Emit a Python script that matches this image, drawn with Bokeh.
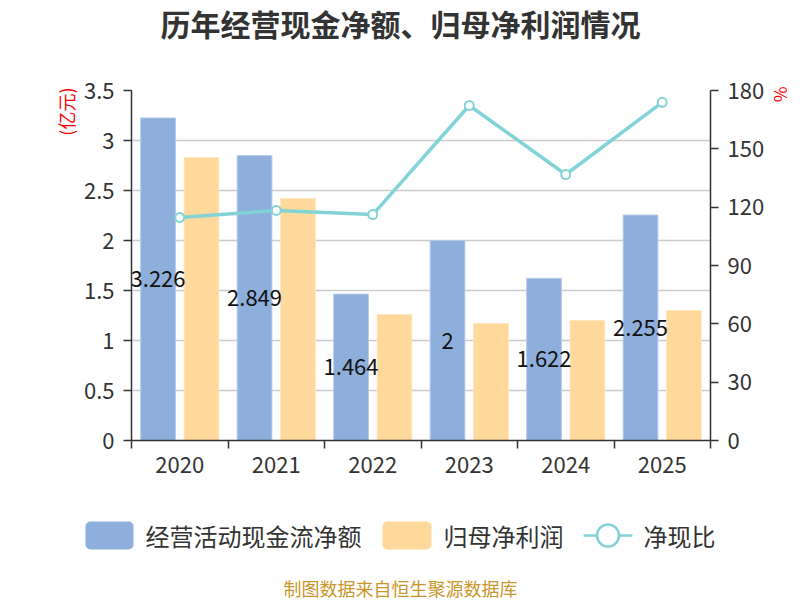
from bokeh.plotting import figure
from bokeh.layouts import column
from bokeh.models import (Range1d, LinearAxis, FixedTicker, CustomJSTickFormatter,
                          ColumnDataSource, Title)
from bokeh.core.properties import value
from bokeh.embed import file_html
from bokeh.resources import INLINE

# ---- data ----
years = ["2020", "2021", "2022", "2023", "2024", "2025"]
cash_flow = [3.226, 2.849, 1.464, 2.0, 1.622, 2.255]          # 经营活动现金流净额 (亿元)
cash_labels = ["3.226", "2.849", "1.464", "2", "1.622", "2.255"]
net_profit = [2.83, 2.42, 1.26, 1.17, 1.20, 1.30]              # 归母净利润 (亿元)
ratio = [114.7, 118.3, 116.2, 172.3, 136.8, 173.9]             # 净现比 (%)
left_ticks = [0, 0.5, 1, 1.5, 2, 2.5, 3, 3.5]
right_ticks = [0, 30, 60, 90, 120, 150, 180]
series_names = ["经营活动现金流净额", "归母净利润", "净现比"]
title_text = "历年经营现金净额、归母净利润情况"
footer_text = "制图数据来自恒生聚源数据库"

FONT = "Noto Sans CJK SC"
BLUE = "#8EAEDB"
ORANGE = "#FFD99B"
TEAL = "#82D3D7"
AXIS = "#333333"
PAGE_W = 800

idx = list(range(len(years)))
off = 0.225
src = ColumnDataSource(dict(
    xb=[i - off for i in idx],
    xo=[i + off for i in idx],
    x=idx,
    cash=cash_flow,
    half=[v / 2 for v in cash_flow],
    lab=cash_labels,
    profit=net_profit,
    ratio=ratio,
))


def blank(h, y0, y1):
    f = figure(width=PAGE_W, height=h, x_range=Range1d(0, PAGE_W), y_range=Range1d(y0, y1),
               output_backend="svg", toolbar_location=None, title=None,
               x_axis_type=None, y_axis_type=None, frame_align=False,
               min_border_left=0, min_border_right=0, min_border_top=0, min_border_bottom=0)
    f.outline_line_color = None
    f.xgrid.grid_line_color = None
    f.ygrid.grid_line_color = None
    return f


# ---- title strip (page y 0..60) ----
top = blank(60, 60, 0)
top.text(x=[400], y=[22], text=[title_text], text_align="center", text_baseline="middle",
         text_font=value(FONT), text_font_size="30px", text_font_style="bold",
         text_color="#333333")

# ---- main chart (page y 60..490) ----
FL, FR = 131, 710
p = figure(width=PAGE_W, height=430, x_range=Range1d(-0.5, 5.5), y_range=Range1d(0, 3.5),
           output_backend="svg", toolbar_location=None, title=None, frame_align=False,
           min_border_left=FL, min_border_right=PAGE_W - FR,
           min_border_top=30, min_border_bottom=50)
p.extra_y_ranges = {"pct": Range1d(0, 180)}
p.outline_line_color = None

b1 = p.vbar(x="xb", top="cash", width=0.36, source=src, fill_color=BLUE,
            line_color="#B5CBEA", line_width=1)
b2 = p.vbar(x="xo", top="profit", width=0.36, source=src, fill_color=ORANGE,
            line_color="#FFE6BD", line_width=1)
ln = p.line(x="x", y="ratio", source=src, y_range_name="pct",
            line_color=TEAL, line_width=3.5)
sc = p.scatter(x="x", y="ratio", source=src, y_range_name="pct", size=9,
               fill_color="white", line_color=TEAL, line_width=2)
p.text(x="xb", y="half", text="lab", source=src, text_align="center",
       text_baseline="middle", text_font_size="22px", text_color="#111111",
       text_font=value(FONT))

p.xaxis.ticker = FixedTicker(ticks=idx, minor_ticks=[i - 0.5 for i in range(len(years) + 1)])
p.xaxis.formatter = CustomJSTickFormatter(args=dict(years=years),
                                          code="return years[Math.round(tick)] || ''")
p.yaxis.ticker = FixedTicker(ticks=left_ticks)
p.yaxis.formatter = CustomJSTickFormatter(code="return String(Math.round(tick*10)/10)")

ra = LinearAxis(y_range_name="pct", ticker=FixedTicker(ticks=right_ticks))
p.add_layout(ra, "right")

for ax in [p.xaxis[0], p.yaxis[0], ra]:
    ax.axis_line_color = AXIS
    ax.axis_line_width = 1.5
    ax.major_tick_line_color = AXIS
    ax.major_tick_line_width = 1.5
    ax.major_tick_out = 8
    ax.major_tick_in = 0
    ax.minor_tick_in = 0
    ax.minor_tick_out = 0
    ax.major_label_text_font = FONT
    ax.major_label_text_font_size = "22px"
    ax.major_label_text_color = AXIS
    ax.major_label_standoff = 9

p.xaxis.major_tick_line_color = None
p.xaxis.minor_tick_line_color = AXIS
p.xaxis.minor_tick_line_width = 1.5
p.xaxis.minor_tick_out = 8
p.xaxis.major_label_standoff = 8
p.yaxis.minor_tick_line_color = None
ra.minor_tick_line_color = None

p.xgrid.grid_line_color = None
p.ygrid.grid_line_color = "#CCCCCC"
p.ygrid.grid_line_width = 1.5

p.add_layout(Title(text="(亿元)", align="right", offset=-3, standoff=4, text_font=FONT,
                   text_font_size="18px", text_font_style="normal",
                   text_color="#FF0000"), "left")
p.add_layout(Title(text="%", align="left", offset=-4, standoff=2, text_font=FONT,
                   text_font_size="17px", text_font_style="normal",
                   text_color="#FF0000"), "right")

# ---- legend + footer strip (page y 490..600) ----
bot = blank(110, 600, 490)
LEG_Y = 535
bot.quad(left=[85, 382], right=[133, 431], top=[521, 521], bottom=[549, 549],
         fill_color=[BLUE, ORANGE], line_color=None, border_radius=5)
bot.text(x=[145, 443, 643], y=[LEG_Y] * 3, text=series_names, text_align="left",
         text_baseline="middle", text_font=value(FONT), text_font_size="24px",
         text_color="#333333")
bot.line(x=[583, 632], y=[LEG_Y, LEG_Y], line_color=TEAL, line_width=2.5)
bot.scatter(x=[607.5], y=[LEG_Y], size=22, fill_color="white", line_color=TEAL, line_width=2.5)
bot.text(x=[400], y=[587], text=[footer_text], text_align="center", text_baseline="middle",
         text_font=value(FONT), text_font_size="18px", text_color="#C8962A")

layout = column(top, p, bot, spacing=0)
open("out.html", "w").write(file_html(layout, INLINE))
